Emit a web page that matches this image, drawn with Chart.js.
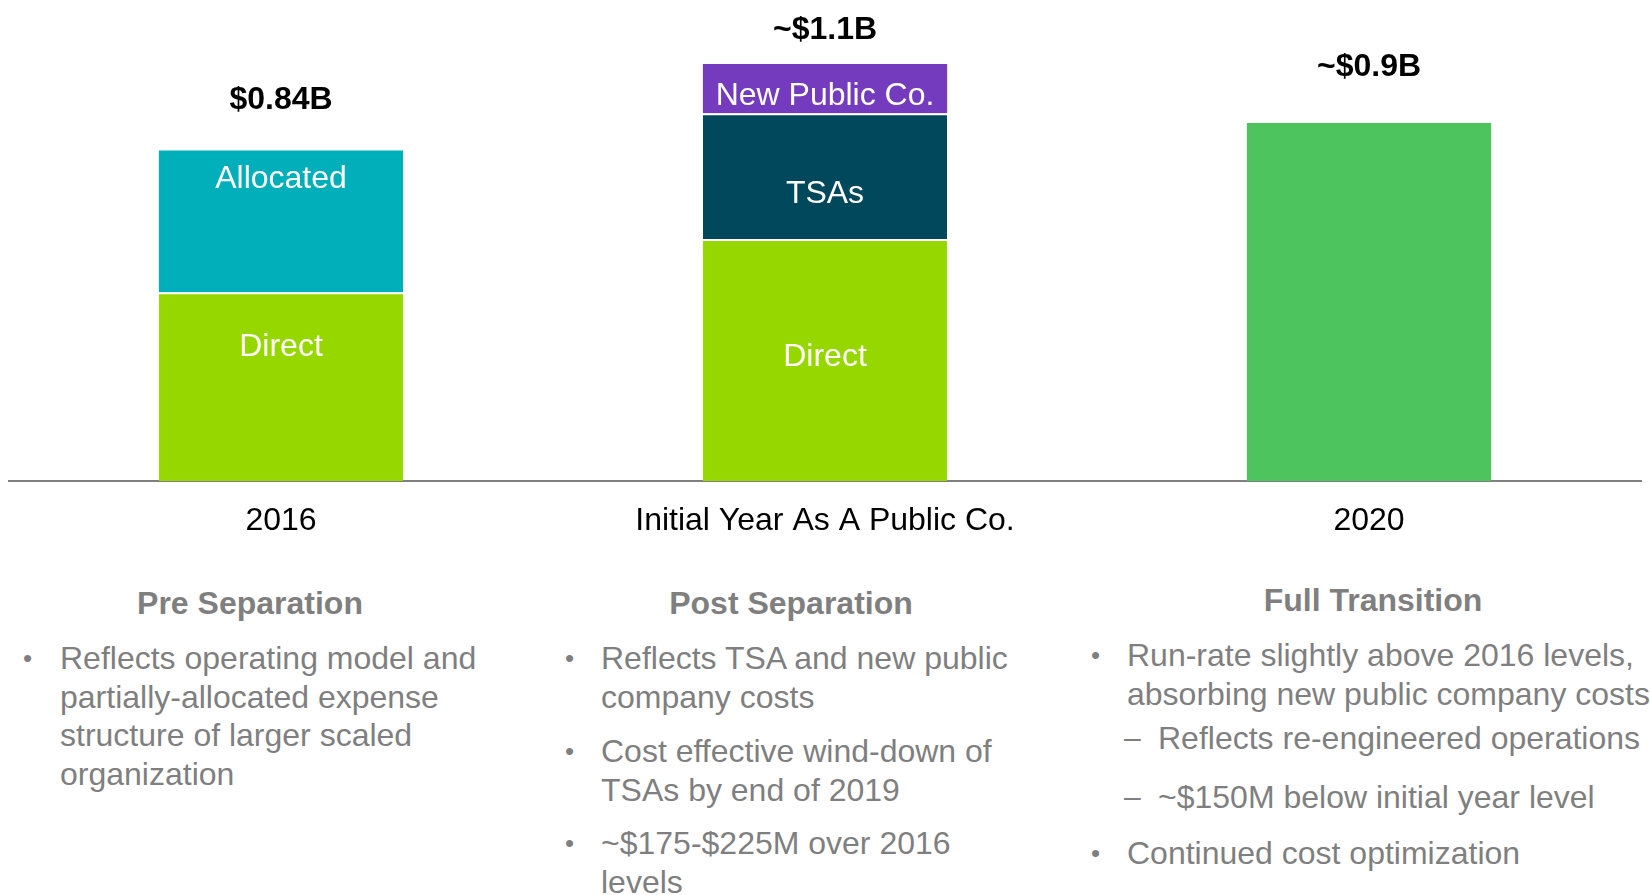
<!DOCTYPE html>
<html>
<head>
<meta charset="utf-8">
<script src="https://cdn.jsdelivr.net/npm/chart.js@4.4.1/dist/chart.umd.min.js"></script>
<style>
  html, body { margin: 0; padding: 0; background: #fff; }
  body { width: 1650px; height: 895px; position: relative; overflow: hidden;
         font-family: 'Liberation Sans', Arial, sans-serif; color: #7f7f7f; }
  #chartBox { position: absolute; left: 0; top: 0; width: 1650px; height: 545px; }
  .head { position: absolute; font-weight: bold; font-size: 32px; line-height: 38.6px;
          transform: translateX(-50%); white-space: nowrap; }
  .item { position: absolute; font-size: 32px; line-height: 38.6px; white-space: nowrap; }
  .item .mark { position: absolute; top: 0; font-size: 26px; }
  .item .dash { position: absolute; top: 0; font-size: 30px; }
</style>
</head>
<body>
<div id="chartBox"><canvas id="chart" width="1650" height="545"></canvas></div>

<div class="head" style="left:250px; top:584px;">Pre Separation</div>
<div class="head" style="left:791px; top:584px;">Post Separation</div>
<div class="head" style="left:1373px; top:581px;">Full Transition</div>

<div class="item" style="left:60px; top:639px;"><span class="mark" style="left:-37px;">•</span>Reflects operating model and<br>partially-allocated expense<br>structure of larger scaled<br>organization</div>

<div class="item" style="left:601px; top:639px;"><span class="mark" style="left:-36px;">•</span>Reflects TSA and new public<br>company costs</div>
<div class="item" style="left:601px; top:732px;"><span class="mark" style="left:-36px;">•</span>Cost effective wind-down of<br>TSAs by end of 2019</div>
<div class="item" style="left:601px; top:824px;"><span class="mark" style="left:-36px;">•</span>~$175-$225M over 2016<br>levels</div>

<div class="item" style="left:1127px; top:636px;"><span class="mark" style="left:-36px;">•</span>Run-rate slightly above 2016 levels,<br>absorbing new public company costs</div>
<div class="item" style="left:1158px; top:719px;"><span class="dash" style="left:-34px;">–</span>Reflects re-engineered operations</div>
<div class="item" style="left:1158px; top:778px;"><span class="dash" style="left:-34px;">–</span>~$150M below initial year level</div>
<div class="item" style="left:1127px; top:834px;"><span class="mark" style="left:-36px;">•</span>Continued cost optimization</div>

<script>
// values in $B
const categories = ['2016', 'Initial Year As A Public Co.', '2020'];
const directCost = [0.48, 0.615, null];
const allocatedCost = [0.36, null, null];
const tsaCost = [null, 0.32, null];
const newPublicCoCost = [null, 0.125, null];
const runRateCost = [null, null, 0.91];
const totalLabels = ['$0.84B', '~$1.1B', '~$0.9B'];

const FONT = "'Liberation Sans', Arial, sans-serif";

// where the white segment label sits, as a fraction of the segment height from its top
const labelPlacement = {
  'Direct': [0.29, 0.49, null],
  'Allocated': [0.2, null, null],
  'TSAs': [null, 0.64, null],
  'New Public Co.': [null, 0.66, null]
};
// distance from bar top up to the middle of the total label
const totalGap = [50, 34, 56];

const barLabels = {
  id: 'barLabels',
  afterDatasetsDraw (chart) {
    const ctx = chart.ctx;
    const yScale = chart.scales.y;
    ctx.save();
    ctx.textAlign = 'center';
    ctx.textBaseline = 'middle';

    ctx.font = '32px ' + FONT;
    ctx.fillStyle = '#ffffff';
    chart.data.datasets.forEach((ds, di) => {
      const place = labelPlacement[ds.label];
      if (!place) return;
      chart.getDatasetMeta(di).data.forEach((bar, i) => {
        if (ds.data[i] == null || place[i] == null) return;
        const top = Math.min(bar.y, bar.base);
        const h = Math.abs(bar.base - bar.y);
        ctx.fillText(ds.label, bar.x, top + h * place[i]);
      });
    });

    ctx.font = 'bold 32px ' + FONT;
    ctx.fillStyle = '#000000';
    categories.forEach((c, i) => {
      const total = chart.data.datasets.reduce((s, ds) => s + (ds.data[i] || 0), 0);
      const x = chart.getDatasetMeta(0).data[i].x;
      ctx.fillText(totalLabels[i], x, yScale.getPixelForValue(total) - totalGap[i]);
    });
    ctx.restore();
  }
};

const sepBorder = { top: 2, left: 0, right: 0, bottom: 0 };

new Chart(document.getElementById('chart'), {
  type: 'bar',
  data: {
    labels: categories,
    datasets: [
      { label: 'Direct', data: directCost, backgroundColor: '#97d700',
        borderColor: '#ffffff', borderWidth: sepBorder, borderSkipped: false },
      { label: 'Allocated', data: allocatedCost, backgroundColor: '#00afb9' },
      { label: 'TSAs', data: tsaCost, backgroundColor: '#02485c',
        borderColor: '#ffffff', borderWidth: sepBorder, borderSkipped: false },
      { label: 'New Public Co.', data: newPublicCoCost, backgroundColor: '#743bbf' },
      { label: 'Run-rate', data: runRateCost, backgroundColor: '#4dc45e' }
    ]
  },
  options: {
    responsive: false,
    devicePixelRatio: 1,
    animation: false,
    layout: { padding: { left: 9, right: 9, top: 9, bottom: 0 } },
    datasets: { bar: { barPercentage: 0.449, categoryPercentage: 1, grouped: false } },
    plugins: { legend: { display: false }, tooltip: { enabled: false } },
    scales: {
      x: {
        stacked: true,
        grid: { display: false },
        border: { display: true, color: '#7f7f7f', width: 2 },
        ticks: { color: '#000000', padding: 13, font: { family: FONT, size: 32, lineHeight: 1.2 } },
        afterFit (scale) { scale.height = 64; }
      },
      y: {
        stacked: true,
        display: false,
        min: 0,
        max: 1.2
      }
    }
  },
  plugins: [barLabels]
});
</script>
</body>
</html>
